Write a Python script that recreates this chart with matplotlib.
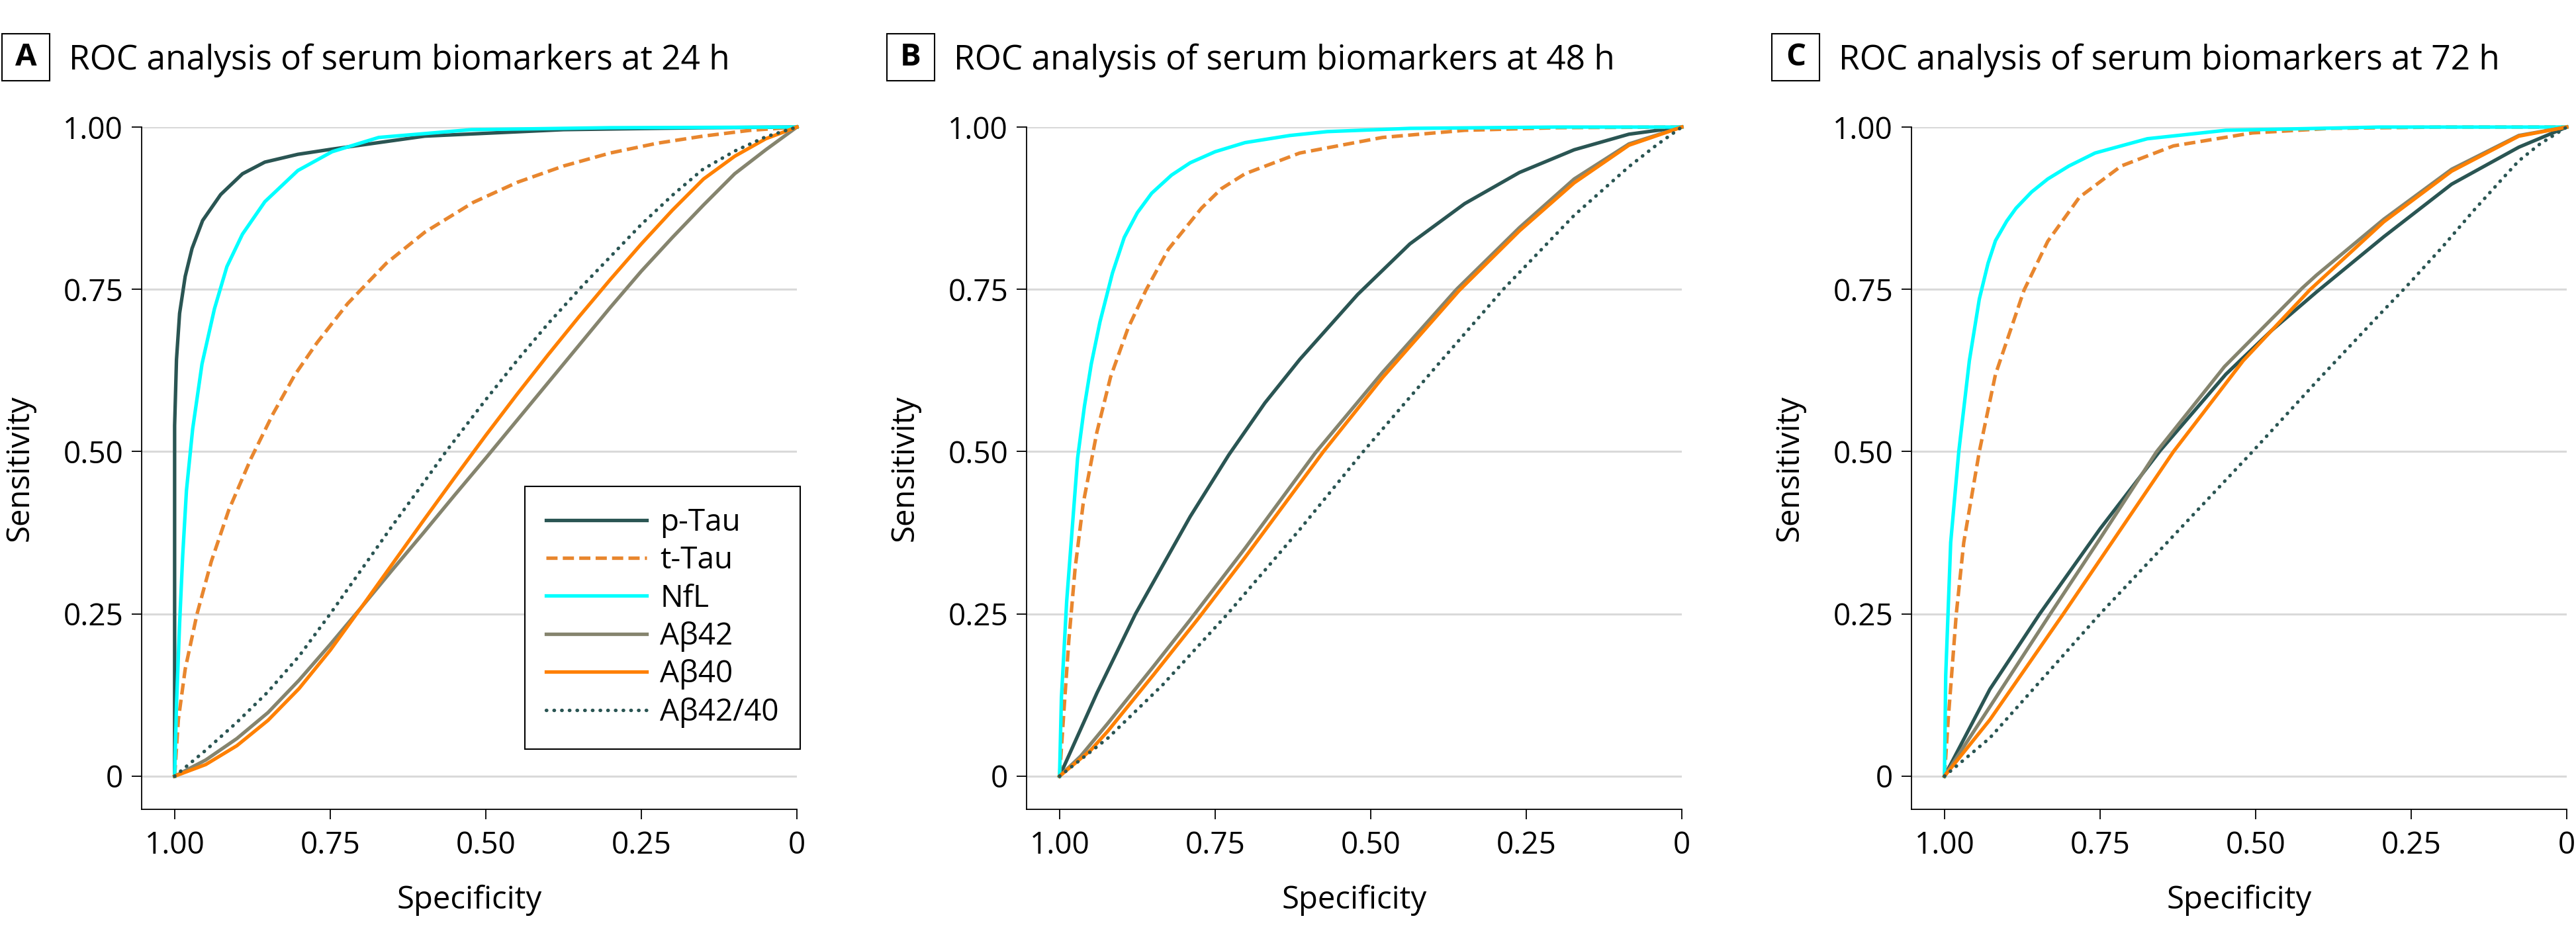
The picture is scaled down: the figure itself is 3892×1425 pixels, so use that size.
import matplotlib
matplotlib.use('Agg')
import matplotlib.pyplot as plt
from matplotlib.patches import Rectangle

plt.rcParams['font.family'] = ['Open Sans', 'DejaVu Sans']

# ---- data (specificity, sensitivity) ----
markers = ['p-Tau', 't-Tau', 'NfL', 'Aβ42', 'Aβ40', 'Aβ42/40']
hours = ['24 h', '48 h', '72 h']
letters = ['A', 'B', 'C']

# 24 h
ptau_24_spec = [1.0, 1.0, 1.0, 0.997, 0.992, 0.983, 0.972, 0.955, 0.926, 0.891, 0.855, 0.802, 0.747, 0.598, 0.375, 0.15, 0.0]
ptau_24_sens = [0.0, 0.37, 0.54, 0.642, 0.713, 0.770, 0.813, 0.856, 0.896, 0.928, 0.946, 0.958, 0.966, 0.986, 0.996, 0.999, 1.0]
ttau_24_spec = [1.0, 0.994, 0.983, 0.964, 0.941, 0.913, 0.877, 0.842, 0.807, 0.771, 0.722, 0.66, 0.598, 0.52, 0.449, 0.375, 0.30, 0.225, 0.151, 0.075, 0.0]
ttau_24_sens = [0.0, 0.087, 0.165, 0.25, 0.331, 0.41, 0.49, 0.558, 0.618, 0.668, 0.728, 0.79, 0.838, 0.884, 0.915, 0.94, 0.96, 0.975, 0.986, 0.995, 1.0]
nfl_24_spec = [1.0, 0.997, 0.992, 0.987, 0.981, 0.971, 0.956, 0.936, 0.916, 0.891, 0.855, 0.802, 0.747, 0.672, 0.523, 0.3, 0.0]
nfl_24_sens = [0.0, 0.11, 0.235, 0.34, 0.44, 0.535, 0.635, 0.72, 0.785, 0.835, 0.885, 0.933, 0.962, 0.984, 0.996, 0.999, 1.0]
ab42_24_spec = [1.0, 0.95, 0.9, 0.85, 0.8, 0.75, 0.7, 0.65, 0.6, 0.55, 0.5, 0.45, 0.4, 0.35, 0.3, 0.25, 0.2, 0.15, 0.1, 0.05, 0.0]
ab42_24_sens = [0.0, 0.025, 0.058, 0.098, 0.148, 0.203, 0.26, 0.318, 0.375, 0.433, 0.49, 0.548, 0.606, 0.664, 0.722, 0.778, 0.83, 0.88, 0.928, 0.965, 1.0]
ab40_24_spec = [1.0, 0.95, 0.9, 0.85, 0.8, 0.75, 0.7, 0.65, 0.6, 0.55, 0.5, 0.45, 0.4, 0.35, 0.3, 0.25, 0.2, 0.15, 0.1, 0.05, 0.0]
ab40_24_sens = [0.0, 0.018, 0.047, 0.086, 0.135, 0.194, 0.26, 0.327, 0.394, 0.46, 0.525, 0.588, 0.649, 0.708, 0.765, 0.82, 0.872, 0.92, 0.955, 0.982, 1.0]
ratio_24_spec = [1.0, 0.95, 0.9, 0.85, 0.8, 0.75, 0.7, 0.65, 0.6, 0.564, 0.5, 0.45, 0.4, 0.345, 0.3, 0.25, 0.2, 0.151, 0.1, 0.05, 0.0]
ratio_24_sens = [0.0, 0.04, 0.083, 0.13, 0.185, 0.25, 0.318, 0.386, 0.452, 0.5, 0.58, 0.64, 0.697, 0.755, 0.8, 0.85, 0.895, 0.935, 0.963, 0.985, 1.0]

# 48 h
ptau_48_spec = [1.0, 0.94, 0.878, 0.79, 0.728, 0.67, 0.614, 0.521, 0.437, 0.349, 0.261, 0.173, 0.085, 0.0]
ptau_48_sens = [0.0, 0.128, 0.25, 0.4, 0.495, 0.575, 0.642, 0.742, 0.82, 0.882, 0.93, 0.965, 0.989, 1.0]
ttau_48_spec = [1.0, 0.993, 0.985, 0.975, 0.962, 0.94, 0.918, 0.89, 0.861, 0.825, 0.772, 0.74, 0.702, 0.614, 0.481, 0.349, 0.2, 0.0]
ttau_48_sens = [0.0, 0.1, 0.21, 0.32, 0.42, 0.53, 0.615, 0.69, 0.749, 0.812, 0.875, 0.905, 0.928, 0.96, 0.984, 0.995, 0.999, 1.0]
nfl_48_spec = [1.0, 0.997, 0.9885, 0.971, 0.96, 0.949, 0.935, 0.915, 0.896, 0.875, 0.852, 0.82, 0.79, 0.75, 0.702, 0.63, 0.57, 0.437, 0.2, 0.0]
nfl_48_sens = [0.0, 0.121, 0.27, 0.49, 0.57, 0.635, 0.7, 0.775, 0.83, 0.868, 0.898, 0.926, 0.945, 0.962, 0.976, 0.987, 0.993, 0.998, 1.0, 1.0]
ab42_48_spec = [1.0, 0.966, 0.922, 0.85, 0.79, 0.702, 0.589, 0.481, 0.362, 0.261, 0.173, 0.085, 0.0]
ab42_48_sens = [0.0, 0.031, 0.082, 0.168, 0.241, 0.351, 0.498, 0.622, 0.75, 0.845, 0.92, 0.974, 1.0]
ab40_48_spec = [1.0, 0.95, 0.922, 0.85, 0.777, 0.702, 0.576, 0.481, 0.358, 0.261, 0.173, 0.085, 0.0]
ab40_48_sens = [0.0, 0.04, 0.07, 0.155, 0.243, 0.337, 0.5, 0.614, 0.748, 0.84, 0.914, 0.972, 1.0]
ratio_48_spec = [1.0, 0.922, 0.834, 0.73, 0.614, 0.512, 0.393, 0.287, 0.173, 0.085, 0.041, 0.0]
ratio_48_sens = [0.0, 0.059, 0.141, 0.25, 0.38, 0.5, 0.633, 0.75, 0.864, 0.939, 0.972, 1.0]

# 72 h
ptau_72_spec = [1.0, 0.927, 0.847, 0.75, 0.653, 0.548, 0.475, 0.402, 0.294, 0.185, 0.077, 0.0]
ptau_72_sens = [0.0, 0.134, 0.25, 0.381, 0.502, 0.619, 0.686, 0.746, 0.831, 0.912, 0.969, 1.0]
ttau_72_spec = [1.0, 0.994, 0.981, 0.969, 0.944, 0.918, 0.872, 0.834, 0.783, 0.716, 0.632, 0.505, 0.379, 0.2, 0.0]
ttau_72_sens = [0.0, 0.087, 0.25, 0.36, 0.5, 0.619, 0.749, 0.824, 0.892, 0.94, 0.971, 0.991, 0.998, 1.0, 1.0]
nfl_72_spec = [1.0, 0.998, 0.99, 0.977, 0.96, 0.944, 0.93, 0.918, 0.9, 0.885, 0.86, 0.834, 0.8, 0.758, 0.674, 0.548, 0.3, 0.0]
nfl_72_sens = [0.0, 0.155, 0.36, 0.5, 0.64, 0.735, 0.79, 0.825, 0.855, 0.875, 0.9, 0.92, 0.94, 0.96, 0.982, 0.995, 1.0, 1.0]
ab42_72_spec = [1.0, 0.927, 0.83, 0.75, 0.659, 0.55, 0.425, 0.402, 0.294, 0.185, 0.077, 0.0]
ab42_72_sens = [0.0, 0.107, 0.25, 0.366, 0.5, 0.631, 0.752, 0.772, 0.858, 0.935, 0.987, 1.0]
ab40_72_spec = [1.0, 0.927, 0.809, 0.632, 0.52, 0.413, 0.294, 0.185, 0.077, 0.0]
ab40_72_sens = [0.0, 0.087, 0.25, 0.5, 0.64, 0.749, 0.854, 0.932, 0.986, 1.0]
ratio_72_spec = [1.0, 0.927, 0.75, 0.505, 0.4, 0.3, 0.257, 0.2, 0.149, 0.1, 0.077, 0.043, 0.0]
ratio_72_sens = [0.0, 0.059, 0.25, 0.5, 0.61, 0.712, 0.755, 0.815, 0.872, 0.924, 0.948, 0.974, 1.0]

curves = [
    [(ptau_24_spec, ptau_24_sens), (ttau_24_spec, ttau_24_sens), (nfl_24_spec, nfl_24_sens),
     (ab42_24_spec, ab42_24_sens), (ab40_24_spec, ab40_24_sens), (ratio_24_spec, ratio_24_sens)],
    [(ptau_48_spec, ptau_48_sens), (ttau_48_spec, ttau_48_sens), (nfl_48_spec, nfl_48_sens),
     (ab42_48_spec, ab42_48_sens), (ab40_48_spec, ab40_48_sens), (ratio_48_spec, ratio_48_sens)],
    [(ptau_72_spec, ptau_72_sens), (ttau_72_spec, ttau_72_sens), (nfl_72_spec, nfl_72_sens),
     (ab42_72_spec, ab42_72_sens), (ab40_72_spec, ab40_72_sens), (ratio_72_spec, ratio_72_sens)],
]

ticks = [1.0, 0.75, 0.5, 0.25, 0.0]
tick_labels = ['1.00', '0.75', '0.50', '0.25', '0']

colors = ['#2a5553', '#e8862e', '#00ffff', '#85846e', '#ff8000', '#2a5553']
styles = ['-', (0, (3.2, 1.5)), '-', '-', '-', (0, (0.1, 2.1))]

# ---- figure ----
W, H = 3892, 1425
fig = plt.figure(figsize=(W / 100, H / 100), dpi=100)
step = 1337

for i in range(3):
    x0 = 214 + i * step
    ax = fig.add_axes([x0 / W, (H - 1223) / H, 990 / W, 1031 / H])
    for s in ['top', 'right']:
        ax.spines[s].set_visible(False)
    for s in ['left', 'bottom']:
        ax.spines[s].set_linewidth(1.3)

    ax.set_xlim(1.053, 0)
    ax.set_ylim(-0.051, 1.0)
    ax.set_xticks(ticks)
    ax.set_xticklabels(tick_labels)
    ax.set_yticks(ticks)
    ax.set_yticklabels(tick_labels)
    ax.tick_params(length=11, width=1.3, labelsize=33, pad=9)
    ax.tick_params(axis='x', pad=12)
    ax.yaxis.grid(True, color='#d9d9d9', lw=2.2)
    ax.set_axisbelow(True)

    for j, (sp, se) in enumerate(curves[i]):
        ln, = ax.plot(sp, se, color=colors[j], lw=3.8, linestyle=styles[j],
                      label=markers[j], clip_on=False, zorder=3 + j,
                      solid_joinstyle='round')
        if j == 5:
            ln.set_dash_capstyle('round')

    ax.set_xlabel('Specificity', fontsize=34)
    ax.set_ylabel('Sensitivity', fontsize=34)
    ax.xaxis.set_label_coords(0.5, -0.133)
    ax.xaxis.label.set_verticalalignment('center')
    ax.yaxis.set_label_coords((30 - 214) / 990, 0.5)
    ax.yaxis.label.set_verticalalignment('center')

    if i == 0:
        leg = ax.legend(loc='lower right', bbox_to_anchor=(1.005, 0.0883), borderaxespad=0,
                        fontsize=33, handlelength=3.3, handletextpad=0.45,
                        labelspacing=0.25, borderpad=0.7, fancybox=False,
                        edgecolor='black', framealpha=1)
        leg.get_frame().set_linewidth(1.5)

    # panel letter box and title
    bx = 3 + i * step
    fig.add_artist(Rectangle((bx / W, (H - 122) / H), 72 / W, 71 / H,
                             transform=fig.transFigure, fill=False, ec='black', lw=1.5))
    fig.text((bx + 36) / W, (H - 86.5) / H, letters[i], fontsize=34, fontweight='bold',
             ha='center', va='center')
    fig.text((104 + i * step) / W, (H - 105) / H,
             'ROC analysis of serum biomarkers at ' + hours[i],
             fontsize=37, ha='left', va='baseline')

fig.savefig('out.png', dpi=100)
